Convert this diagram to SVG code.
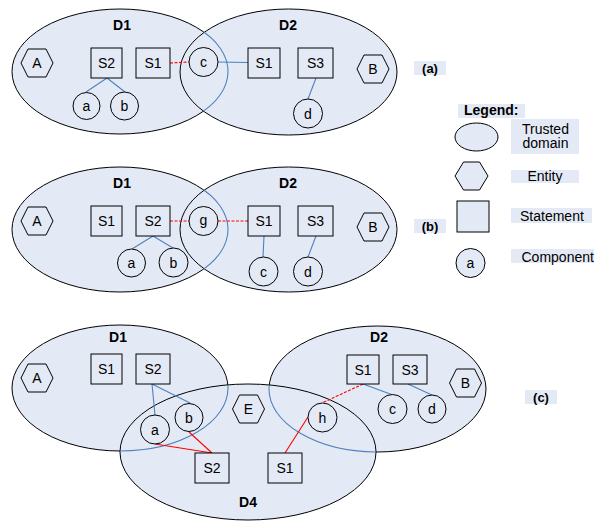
<svg xmlns="http://www.w3.org/2000/svg" xmlns:xlink="http://www.w3.org/1999/xlink" width="594" height="521" viewBox="0 0 594 521">
  <style>
    .dom { fill: #E4EAF5; stroke: #000; stroke-width: 1; }
    .edge { fill: none; stroke: #4F81BD; stroke-width: 1.1; }
    .node { fill: #E4EAF5; stroke: #000; stroke-width: 1; }
    .lbl { font-family: "Liberation Sans", Arial, sans-serif; font-size: 14px; text-anchor: middle; fill: #000; }
    .dl { font-family: "Liberation Sans", Arial, sans-serif; font-size: 14px; font-weight: bold; text-anchor: middle; fill: #000; }
    .tag { fill: #E4EAF5; stroke: none; }
    .tagt { font-family: "Liberation Sans", Arial, sans-serif; font-size: 13px; font-weight: bold; text-anchor: middle; fill: #000; }
    .lg { font-family: "Liberation Sans", Arial, sans-serif; font-size: 14px; fill: #000; }
    .blue { stroke: #4F81BD; stroke-width: 1.1; fill: none; }
    .red { stroke: #FF0000; stroke-width: 1.1; fill: none; }
    .reddash { stroke: #FF0000; stroke-width: 1.1; fill: none; stroke-dasharray: 3 1.5; }
  </style>
  <defs>
    <polygon id="hex" points="-16,0 -9,-14 9,-14 16,0 9,14 -9,14"/>
    <clipPath id="clipA"><ellipse cx="288.5" cy="72" rx="108.5" ry="63"/></clipPath>
    <clipPath id="clipB"><ellipse cx="288.5" cy="229.5" rx="108.5" ry="62.5"/></clipPath>
    <clipPath id="clipC"><ellipse cx="248" cy="452" rx="128" ry="68"/></clipPath>
  </defs>

  <!-- trusted domains -->
  <g id="domains">
    <g id="a-D1"><ellipse class="dom" cx="120" cy="71.5" rx="108" ry="62.5"/><text class="dl" x="122" y="30">D1</text></g>
    <g id="a-D2"><ellipse class="dom" cx="288.5" cy="72" rx="108.5" ry="63"/><text class="dl" x="288" y="30">D2</text></g>
    <ellipse class="edge" cx="120" cy="71.5" rx="108" ry="62.5" clip-path="url(#clipA)"/>

    <g id="b-D1"><ellipse class="dom" cx="120" cy="229.5" rx="108" ry="62.5"/><text class="dl" x="122" y="188">D1</text></g>
    <g id="b-D2"><ellipse class="dom" cx="288.5" cy="229.5" rx="108.5" ry="62.5"/><text class="dl" x="288" y="188">D2</text></g>
    <ellipse class="edge" cx="120" cy="229.5" rx="108" ry="62.5" clip-path="url(#clipB)"/>

    <g id="c-D1"><ellipse class="dom" cx="120" cy="388" rx="108" ry="63"/><text class="dl" x="118" y="342">D1</text></g>
    <g id="c-D2"><ellipse class="dom" cx="377.5" cy="389" rx="108.5" ry="63"/><text class="dl" x="379" y="342">D2</text></g>
    <g id="c-D4"><ellipse class="dom" cx="248" cy="452" rx="128" ry="68"/><text class="dl" x="248" y="507">D4</text></g>
    <ellipse class="edge" cx="120" cy="388" rx="108" ry="63" clip-path="url(#clipC)"/>
    <ellipse class="edge" cx="377.5" cy="389" rx="108.5" ry="63" clip-path="url(#clipC)"/>
  </g>

  <!-- connectors -->
  <g id="connectors">
    <!-- (a) -->
    <line class="blue" x1="107" y1="78" x2="86" y2="92"/>
    <line class="blue" x1="107" y1="78" x2="125" y2="92"/>
    <line class="blue" x1="218" y1="62" x2="248" y2="62.5"/>
    <line class="blue" x1="316" y1="78" x2="308" y2="99"/>
    <line class="reddash" x1="170" y1="63" x2="189" y2="62"/>
    <!-- (b) -->
    <line class="blue" x1="153" y1="236" x2="132" y2="249"/>
    <line class="blue" x1="153" y1="236" x2="173" y2="248"/>
    <line class="blue" x1="264" y1="236" x2="263" y2="257"/>
    <line class="blue" x1="316" y1="236" x2="308" y2="257"/>
    <line class="reddash" x1="170" y1="221" x2="189" y2="221"/>
    <line class="reddash" x1="218" y1="221" x2="248" y2="221"/>
    <!-- (c) -->
    <line class="blue" x1="152" y1="384" x2="155" y2="415"/>
    <line class="blue" x1="152" y1="384" x2="190" y2="403"/>
    <line class="blue" x1="363" y1="384" x2="393" y2="395"/>
    <line class="blue" x1="408" y1="384" x2="432" y2="395"/>
    <line class="red" x1="155" y1="444" x2="212" y2="453"/>
    <line class="red" x1="189" y1="432" x2="212" y2="453"/>
    <line class="red" x1="308" y1="417" x2="285" y2="453"/>
    <line class="reddash" x1="363" y1="384" x2="322" y2="403"/>
  </g>

  <!-- panel (a) nodes -->
  <g id="a-A"><use xlink:href="#hex" class="node" x="37" y="63"/><text class="lbl" x="37" y="68">A</text></g>
  <g id="a-S2"><rect class="node" x="91" y="48" width="31" height="30"/><text class="lbl" x="106.5" y="68">S2</text></g>
  <g id="a-S1"><rect class="node" x="136" y="48" width="34" height="30"/><text class="lbl" x="153" y="68">S1</text></g>
  <g id="a-c"><circle class="node" cx="203.5" cy="62" r="14.5"/><text class="lbl" x="203.5" y="67">c</text></g>
  <g id="a-a"><circle class="node" cx="86.5" cy="106" r="13.5"/><text class="lbl" x="86.5" y="111">a</text></g>
  <g id="a-b"><circle class="node" cx="124.5" cy="106" r="14"/><text class="lbl" x="124.5" y="111">b</text></g>
  <g id="a-S1b"><rect class="node" x="248" y="48" width="32" height="30"/><text class="lbl" x="264" y="68">S1</text></g>
  <g id="a-S3"><rect class="node" x="298" y="48" width="35" height="30"/><text class="lbl" x="315.5" y="68">S3</text></g>
  <g id="a-B"><use xlink:href="#hex" class="node" x="373" y="69"/><text class="lbl" x="373" y="74">B</text></g>
  <g id="a-d"><circle class="node" cx="308" cy="113.5" r="14.5"/><text class="lbl" x="308" y="118.5">d</text></g>
  <g id="tag-a"><rect class="tag" x="414" y="61" width="32" height="14"/><text class="tagt" x="430" y="73">(a)</text></g>

  <!-- panel (b) nodes -->
  <g id="b-A"><use xlink:href="#hex" class="node" x="37" y="221"/><text class="lbl" x="37" y="226">A</text></g>
  <g id="b-S1"><rect class="node" x="91" y="206" width="31" height="30"/><text class="lbl" x="106.5" y="226">S1</text></g>
  <g id="b-S2"><rect class="node" x="136" y="206" width="34" height="30"/><text class="lbl" x="153" y="226">S2</text></g>
  <g id="b-g"><circle class="node" cx="203.5" cy="221" r="14.5"/><text class="lbl" x="203.5" y="225">g</text></g>
  <g id="b-a"><circle class="node" cx="131.5" cy="263" r="14"/><text class="lbl" x="131.5" y="268">a</text></g>
  <g id="b-b"><circle class="node" cx="173.5" cy="262.5" r="14.5"/><text class="lbl" x="173.5" y="267.5">b</text></g>
  <g id="b-S1b"><rect class="node" x="248" y="206" width="32" height="30"/><text class="lbl" x="264" y="226">S1</text></g>
  <g id="b-S3"><rect class="node" x="298" y="206" width="35" height="30"/><text class="lbl" x="315.5" y="226">S3</text></g>
  <g id="b-B"><use xlink:href="#hex" class="node" x="373" y="227"/><text class="lbl" x="373" y="232">B</text></g>
  <g id="b-c"><circle class="node" cx="263.5" cy="271.5" r="14.5"/><text class="lbl" x="263.5" y="276.5">c</text></g>
  <g id="b-d"><circle class="node" cx="308" cy="271.5" r="14.5"/><text class="lbl" x="308" y="276.5">d</text></g>
  <g id="tag-b"><rect class="tag" x="414" y="219" width="32" height="14"/><text class="tagt" x="430" y="231">(b)</text></g>

  <!-- panel (c) nodes -->
  <g id="c-A"><use xlink:href="#hex" class="node" x="37" y="378"/><text class="lbl" x="37" y="383">A</text></g>
  <g id="c-S1"><rect class="node" x="91" y="354" width="31" height="30"/><text class="lbl" x="106.5" y="374">S1</text></g>
  <g id="c-S2"><rect class="node" x="136" y="354" width="34" height="30"/><text class="lbl" x="153" y="374">S2</text></g>
  <g id="c-a"><circle class="node" cx="155" cy="429.5" r="14.5"/><text class="lbl" x="155" y="434.5">a</text></g>
  <g id="c-b"><circle class="node" cx="189" cy="417.5" r="14"/><text class="lbl" x="189" y="422.5">b</text></g>
  <g id="c-E"><use xlink:href="#hex" class="node" x="248.5" y="409"/><text class="lbl" x="248.5" y="414">E</text></g>
  <g id="c-S2d4"><rect class="node" x="195" y="453" width="34" height="30"/><text class="lbl" x="212" y="473">S2</text></g>
  <g id="c-S1d4"><rect class="node" x="268" y="453" width="34" height="30"/><text class="lbl" x="285" y="473">S1</text></g>
  <g id="c-h"><circle class="node" cx="322.5" cy="417.5" r="14.5"/><text class="lbl" x="322.5" y="422.5">h</text></g>
  <g id="c-S1d2"><rect class="node" x="347" y="355" width="32" height="29"/><text class="lbl" x="363" y="374.5">S1</text></g>
  <g id="c-S3"><rect class="node" x="393" y="355" width="34" height="29"/><text class="lbl" x="410" y="374.5">S3</text></g>
  <g id="c-B"><use xlink:href="#hex" class="node" x="465.5" y="383"/><text class="lbl" x="465.5" y="388">B</text></g>
  <g id="c-c"><circle class="node" cx="392.5" cy="409" r="14.5"/><text class="lbl" x="392.5" y="414">c</text></g>
  <g id="c-d"><circle class="node" cx="432" cy="409" r="14"/><text class="lbl" x="432" y="414">d</text></g>
  <g id="tag-c"><rect class="tag" x="525" y="390" width="32" height="14"/><text class="tagt" x="541" y="402">(c)</text></g>

  <!-- legend -->
  <g id="legend">
    <rect class="tag" x="458" y="104" width="67" height="14"/>
    <text class="lg" x="464" y="115" font-weight="bold">Legend:</text>
    <ellipse class="node" cx="476.5" cy="137" rx="21.5" ry="14"/>
    <rect class="tag" x="511" y="119" width="68" height="35"/>
    <text class="lg" x="522" y="133.5">Trusted</text>
    <text class="lg" x="522.5" y="148">domain</text>
    <polygon class="node" points="455,176 463.5,162 479.5,162 488,176 479.5,190 463.5,190"/>
    <rect class="tag" x="511" y="170" width="68" height="13"/>
    <text class="lg" x="527.5" y="181">Entity</text>
    <rect class="node" x="457" y="201" width="32" height="31"/>
    <rect class="tag" x="511" y="208" width="81" height="15"/>
    <text class="lg" x="520" y="221">Statement</text>
    <circle class="node" cx="470.5" cy="263" r="14.5"/>
    <text class="lbl" x="470.5" y="268">a</text>
    <rect class="tag" x="511" y="249" width="83" height="14"/>
    <text class="lg" x="521.5" y="261.5">Component</text>
  </g>
</svg>
